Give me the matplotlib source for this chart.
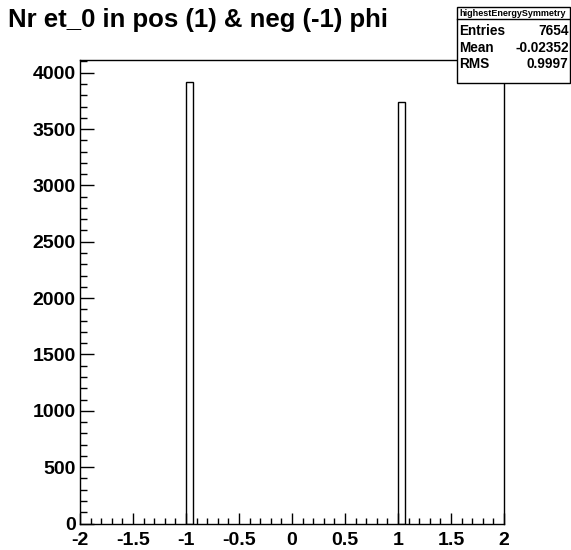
import matplotlib.pyplot as plt
from matplotlib.patches import Rectangle
from matplotlib.ticker import MultipleLocator

plt.rcParams['font.family'] = ['Liberation Sans', 'DejaVu Sans']

# histogram content (bins of width 4/60 on [-2, 2])
bin_left = [-1.0, 1.0]
bin_counts = [3917, 3737]
bin_width = 4.0 / 60

stats_name = "highestEnergySymmetry"
stats_rows = [("Entries", "7654"), ("Mean", "-0.02352"), ("RMS", "0.9997")]

W, H = 571, 550
fig = plt.figure(figsize=(W / 100, H / 100), dpi=100)
ax = fig.add_axes([80 / W, 1 - 523.5 / H, 424 / W, 463.5 / H])

ax.bar(bin_left, bin_counts, width=bin_width, align='edge',
       fill=False, edgecolor='black', linewidth=1.0)

ax.set_xlim(-2, 2)
ax.set_ylim(0, max(bin_counts) * 1.05)

ax.xaxis.set_major_locator(MultipleLocator(0.5))
ax.xaxis.set_minor_locator(MultipleLocator(0.1))
ax.yaxis.set_major_locator(MultipleLocator(500))
ax.yaxis.set_minor_locator(MultipleLocator(100))
ax.xaxis.set_major_formatter(plt.FuncFormatter(lambda v, p: f"{v:g}"))

ax.tick_params(axis='x', which='major', direction='in', length=8, width=1,
               labelsize=14, pad=6, top=False)
ax.tick_params(axis='x', which='minor', direction='in', length=4, width=1, top=False)
ax.tick_params(axis='y', which='major', direction='in', length=10, width=1,
               labelsize=14, pad=3, right=False)
ax.tick_params(axis='y', which='minor', direction='in', length=5, width=1, right=False)
for lab in ax.get_xticklabels() + ax.get_yticklabels():
    lab.set_fontweight('bold')
for sp in ax.spines.values():
    sp.set_linewidth(1.0)

fig.text(8 / W, 1 - 20 / H, "Nr et_0 in pos (1) & neg (-1) phi",
         fontsize=18.5, fontweight='bold', ha='left', va='center')

# stats box
bx0, bx1, by0, by1 = 456.5, 569.5, 7, 83
fig.patches.append(Rectangle((bx0 / W, 1 - by1 / H), (bx1 - bx0) / W, (by1 - by0) / H,
                             transform=fig.transFigure, facecolor='white',
                             edgecolor='black', linewidth=1.0, zorder=5))
fig.add_artist(plt.Line2D([bx0 / W, bx1 / W], [1 - 19 / H, 1 - 19 / H],
                          transform=fig.transFigure, color='black', linewidth=1.0, zorder=6))
fig.text((bx0 + bx1) / 2 / W, 1 - 13 / H, stats_name, fontsize=6.5,
         fontweight='bold', ha='center', va='center', zorder=7)
for i, (k, v) in enumerate(stats_rows):
    y = 1 - (31 + i * 16.5) / H
    fig.text((bx0 + 3) / W, y, k, fontsize=9.8, fontweight='bold',
             ha='left', va='center', zorder=7)
    fig.text((bx1 - 1) / W, y, v, fontsize=9.8, fontweight='bold',
             ha='right', va='center', zorder=7)

fig.savefig("out.png", dpi=100)
